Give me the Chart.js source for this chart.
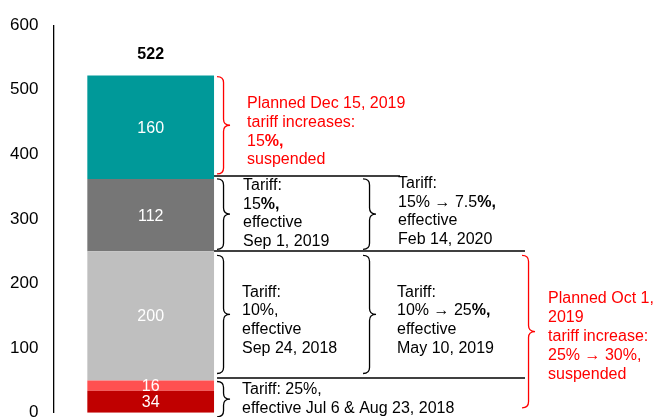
<!DOCTYPE html>
<html>
<head>
<meta charset="utf-8">
<script src="https://cdn.jsdelivr.net/npm/chart.js@4/dist/chart.umd.min.js"></script>
<style>
    html, body { margin: 0; padding: 0; background: #fff; overflow: hidden; }
    #wrap { width: 655px; height: 438px; }
</style>
</head>
<body>
<div id="wrap"><canvas id="chart" width="655" height="438"></canvas></div>
<script>
'use strict';

// data
var categories = ['Tariffs'];
var segmentNames = ['Jul 6, 2018', 'Aug 23, 2018', 'Sep 24, 2018', 'Sep 1, 2019', 'Dec 15, 2019'];
var segmentValues = [34, 16, 200, 112, 160];
var segmentColors = ['#C00000', '#FF5050', '#BFBFBF', '#767676', '#009999'];
var yTicks = [0, 100, 200, 300, 400, 500, 600];

// notes next to the bar, '**' marks bold runs
var noteLines = [
    ['Planned Dec 15, 2019', 'tariff increases:', '15**%,**', 'suspended'],
    ['Tariff:', '15**%,**', 'effective', 'Sep 1, 2019'],
    ['Tariff:', '15% \u2192 7.5**%,**', 'effective', 'Feb 14, 2020'],
    ['Tariff:', '10%,', 'effective', 'Sep 24, 2018'],
    ['Tariff:', '10% \u2192 25**%,**', 'effective', 'May 10, 2019'],
    ['Tariff: 25%,', 'effective Jul 6 & Aug 23, 2018'],
    ['Planned Oct 1,', '2019', 'tariff increase:', '25% \u2192 30%,', 'suspended']
];
// first and last segment index each note covers
var noteSegments = [[4, 4], [3, 3], [3, 3], [2, 2], [2, 2], [0, 1], [0, 2]];
var noteRed = [true, false, false, false, false, false, true];
// divider lines sit on top of these segments
var dividerSegments = [3, 2, 1];

var FONT = '"Liberation Sans", Arial, sans-serif';
var RED = '#FF0000';

// drawing styles for the notes: brace x from bar edge, text x from brace, insets, text shift
var noteStyles = [
    { bx: 3, tx: 30, t: 1, b: 5, dy: 6.5 },
    { bx: 3, tx: 26, t: 0, b: 2, dy: -0.5 },
    { bx: 149, tx: 35, t: 0, b: 2, dy: -2.5 },
    { bx: 3, tx: 25, t: 4, b: 7, dy: 6 },
    { bx: 149, tx: 34, t: 4, b: 7, dy: 6 },
    { bx: 3, tx: 25, t: 1, b: -4, dy: 0 },
    { bx: 308, tx: 26, t: 4, b: 5, dy: 5 }
];
var dividerStyles = [
    { dy: -3, x0: 0, x1: 186 },
    { dy: 0, x0: 0, x1: 311 },
    { dy: -3, x0: 3, x1: 311 }
];

var cumulative = function (idx) {
    var s = 0;
    for (var i = 0; i <= idx; i++) { s += segmentValues[i]; }
    return s;
};

var drawBrace = function (ctx, x, y0, y1, w, color) {
    var mid = (y0 + y1) / 2;
    var r = Math.min(6, (y1 - y0) / 4);
    var xm = x + w / 2;
    ctx.save();
    ctx.strokeStyle = color;
    ctx.lineWidth = 1.3;
    ctx.beginPath();
    ctx.moveTo(x, y0);
    ctx.quadraticCurveTo(xm, y0, xm, y0 + r);
    ctx.lineTo(xm, mid - r);
    ctx.quadraticCurveTo(xm, mid, x + w, mid);
    ctx.quadraticCurveTo(xm, mid, xm, mid + r);
    ctx.lineTo(xm, y1 - r);
    ctx.quadraticCurveTo(xm, y1, x, y1);
    ctx.stroke();
    ctx.restore();
};

var drawRich = function (ctx, text, x, y, color) {
    var parts = text.split('**');
    ctx.fillStyle = color;
    ctx.textBaseline = 'middle';
    ctx.textAlign = 'left';
    for (var i = 0; i < parts.length; i++) {
        ctx.font = (i % 2 ? 'bold ' : '') + '16px ' + FONT;
        ctx.fillText(parts[i], x, y);
        x += ctx.measureText(parts[i]).width;
    }
};

var labelsPlugin = {
    id: 'segmentLabels',
    afterDatasetsDraw: function (chart) {
        var ctx = chart.ctx;
        var top = null;
        ctx.save();
        ctx.textAlign = 'center';
        ctx.textBaseline = 'middle';
        ctx.font = '16px ' + FONT;
        ctx.fillStyle = '#fff';
        chart.data.datasets.forEach(function (ds, i) {
            var el = chart.getDatasetMeta(i).data[0];
            ctx.fillText(String(ds.data[0]), el.x, (el.y + el.base) / 2 + 1);
            top = el;
        });
        var total = segmentValues.reduce(function (a, b) { return a + b; }, 0);
        ctx.fillStyle = '#000';
        ctx.font = 'bold 16px ' + FONT;
        ctx.fillText(String(total), top.x, top.y - 21);
        ctx.restore();
    }
};

var notesPlugin = {
    id: 'notes',
    afterDraw: function (chart) {
        var ctx = chart.ctx;
        var y = chart.scales.y;
        var el = chart.getDatasetMeta(0).data[0];
        var barRight = el.x + el.width / 2;

        ctx.save();
        ctx.strokeStyle = '#000';
        ctx.lineWidth = 1.6;
        dividerSegments.forEach(function (seg, i) {
            var st = dividerStyles[i];
            var py = Math.round(y.getPixelForValue(cumulative(seg))) + st.dy;
            ctx.beginPath();
            ctx.moveTo(barRight + st.x0, py);
            ctx.lineTo(barRight + st.x1, py);
            ctx.stroke();
        });
        ctx.restore();

        noteLines.forEach(function (lines, i) {
            var st = noteStyles[i];
            var seg = noteSegments[i];
            var color = noteRed[i] ? RED : '#000';
            var y0 = y.getPixelForValue(cumulative(seg[1])) + st.t;
            var y1 = y.getPixelForValue(seg[0] > 0 ? cumulative(seg[0] - 1) : 0) - st.b;
            var bx = barRight + st.bx;
            drawBrace(ctx, bx, y0, y1, 13, color);
            var lh = 18.8;
            var cy = (y0 + y1) / 2 + st.dy - (lines.length - 1) * lh / 2;
            ctx.save();
            lines.forEach(function (line, k) {
                drawRich(ctx, line, bx + st.tx, cy + k * lh, color);
            });
            ctx.restore();
        });
    }
};

var datasets = segmentValues.map(function (v, i) {
    return {
        label: segmentNames[i],
        data: [v],
        backgroundColor: segmentColors[i],
        borderWidth: 0,
        barPercentage: 0.651,
        categoryPercentage: 1,
        stack: 'total'
    };
});

Chart.defaults.font.family = FONT;
Chart.defaults.color = '#000';

new Chart(document.getElementById('chart').getContext('2d'), {
    type: 'bar',
    data: { labels: categories, datasets: datasets },
    options: {
        responsive: false,
        animation: false,
        devicePixelRatio: 1,
        // the 0 label hangs below the window, like the original
        layout: { padding: { top: 25, bottom: 0, left: -5, right: 407 } },
        plugins: {
            legend: { display: false },
            tooltip: { enabled: false }
        },
        scales: {
            x: { display: false, stacked: true },
            y: {
                stacked: true,
                min: yTicks[0],
                max: yTicks[yTicks.length - 1],
                afterBuildTicks: function (scale) {
                    scale.ticks = yTicks.map(function (v) { return { value: v }; });
                },
                ticks: { font: { size: 17 }, color: '#000', padding: 15 },
                grid: { display: false, drawTicks: false },
                border: { display: true, color: '#000', width: 1.3 }
            }
        }
    },
    plugins: [labelsPlugin, notesPlugin]
});
</script>
</body>
</html>
